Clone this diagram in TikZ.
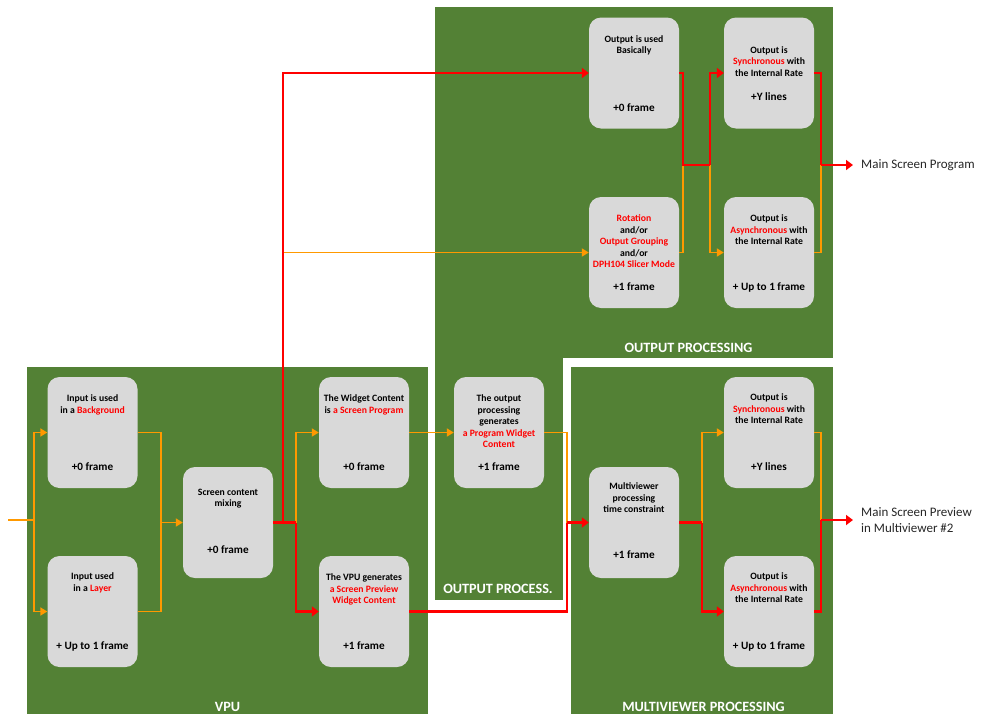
\documentclass[tikz,border=0pt]{standalone}
\usepackage{fontspec}
\setmainfont{Carlito}
\usetikzlibrary{arrows.meta,calc}
\definecolor{panelgreen}{HTML}{538135}
\definecolor{boxgray}{HTML}{D9D9D9}
\definecolor{lineorange}{HTML}{FF9900}
\definecolor{linered}{HTML}{FF0000}
\definecolor{labeltext}{HTML}{262626}
\newcommand{\hl}[1]{\textcolor{linered}{#1}}
\tikzset{
  panel/.style={fill=panelgreen},
  stage/.style={fill=boxgray, rounded corners=12pt, minimum width=90pt,
    minimum height=111pt, inner sep=0pt},
  btxt/.style={font=\bfseries\fontsize{9.7}{11.5}\selectfont, align=center,
    inner sep=0pt, anchor=north, text=black},
  ftxt/.style={font=\bfseries\fontsize{11.2}{13}\selectfont, inner sep=0pt,
    anchor=base, text=black},
  ptitle/.style={font=\bfseries\fontsize{14.2}{16}\selectfont, text=white, inner sep=0pt},
  olink/.style={draw=lineorange, line width=1.8pt},
  rlink/.style={draw=linered, line width=2.8pt},
  otip/.style={-{Triangle[length=7pt,width=8pt]}},
  rtip/.style={-{Triangle[length=7pt,width=10pt]}},
  outlbl/.style={font=\fontsize{13}{16}\selectfont, text=labeltext, align=left,
    anchor=west, inner xsep=8pt, inner ysep=0pt},
}
\begin{document}
\begin{tikzpicture}[x=1pt,y=-1pt]
\useasboundingbox (0,0) rectangle (988,715);

% ---- panels ----
\fill[panel] (27,367) rectangle (428,714);
\fill[panel] (435,7) rectangle (833,358);
\fill[panel] (435,358) rectangle (563,600);
\fill[panel] (571,367) rectangle (833,714);

\node[ptitle] (t-vpu) at (227.5,707) {VPU};
\node[ptitle] (t-out) at (688.5,348) {OUTPUT PROCESSING};
\node[ptitle] (t-outs) at (498,589) {OUTPUT PROCESS.};
\node[ptitle] (t-mv) at (703.5,707) {MULTIVIEWER PROCESSING};

% ---- processing stages ----
\node[stage] (A) at (92.5,432.5) {};
\node[stage] (B) at (92.5,611.5) {};
\node[stage] (C) at (228,522.5) {};
\node[stage] (D) at (364,432.5) {};
\node[stage] (E) at (364,611.5) {};
\node[stage] (F) at (499,432.5) {};
\node[stage] (G) at (634,73) {};
\node[stage] (H) at (634,252.5) {};
\node[stage] (I) at (769,73) {};
\node[stage] (J) at (769,252.5) {};
\node[stage] (K) at (634,522.5) {};
\node[stage] (L) at (769,432.5) {};
\node[stage] (M) at (769,611.5) {};

% ---- stage texts ----
\node[btxt] (A-t) at ($(A.north)+(0,18)$) {Input is used\\in a \hl{Background}};
\node[ftxt] (A-f) at ($(A.north)+(0,93.7)$) {+0 frame};
\node[btxt] (B-t) at ($(B.north)+(0,17)$) {Input used\\in a \hl{Layer}};
\node[ftxt] (B-f) at ($(B.north)+(0,93.7)$) {+ Up to 1 frame};
\node[btxt] (C-t) at ($(C.north)+(0,22)$) {Screen content\\mixing};
\node[ftxt] (C-f) at ($(C.north)+(0,86.7)$) {+0 frame};
\node[btxt] (D-t) at ($(D.north)+(0,18)$) {The Widget Content\\is \hl{a Screen Program}};
\node[ftxt] (D-f) at ($(D.north)+(0,93.7)$) {+0 frame};
\node[btxt] (E-t) at ($(E.north)+(0,18)$) {The VPU generates\\\hl{a Screen Preview}\\\hl{Widget Content}};
\node[ftxt] (E-f) at ($(E.north)+(0,93.7)$) {+1 frame};
\node[btxt] (F-t) at ($(F.north)+(0,18)$) {The output\\processing\\generates\\\hl{a Program Widget}\\\hl{Content}};
\node[ftxt] (F-f) at ($(F.north)+(0,93.7)$) {+1 frame};
\node[btxt] (G-t) at ($(G.north)+(0,18)$) {Output is used\\Basically};
\node[ftxt] (G-f) at ($(G.north)+(0,93.7)$) {+0 frame};
\node[btxt] (H-t) at ($(H.north)+(0,18)$) {\hl{Rotation}\\and/or\\\hl{Output Grouping}\\and/or\\\hl{DPH104 Slicer Mode}};
\node[ftxt] (H-f) at ($(H.north)+(0,93.7)$) {+1 frame};
\node[btxt] (I-t) at ($(I.north)+(0,29)$) {Output is\\\hl{Synchronous} with\\the Internal Rate};
\node[ftxt] (I-f) at ($(I.north)+(0,82.7)$) {+Y lines};
\node[btxt] (J-t) at ($(J.north)+(0,18)$) {Output is\\\hl{Asynchronous} with\\the Internal Rate};
\node[ftxt] (J-f) at ($(J.north)+(0,93.7)$) {+ Up to 1 frame};
\node[btxt] (K-t) at ($(K.north)+(0,16)$) {Multiviewer\\processing\\time constraint};
\node[ftxt] (K-f) at ($(K.north)+(0,91.7)$) {+1 frame};
\node[btxt] (L-t) at ($(L.north)+(0,17)$) {Output is\\\hl{Synchronous} with\\the Internal Rate};
\node[ftxt] (L-f) at ($(L.north)+(0,93.7)$) {+Y lines};
\node[btxt] (M-t) at ($(M.north)+(0,17)$) {Output is\\\hl{Asynchronous} with\\the Internal Rate};
\node[ftxt] (M-f) at ($(M.north)+(0,93.7)$) {+ Up to 1 frame};

% ---- outputs ----
\node[outlbl] (out1) at (853,165) {Main Screen Program};
\node[outlbl] (out2) at (853,520) {Main Screen Preview\\in Multiviewer \#2};

% ---- junction points ----
\coordinate (in) at (8,520);
\coordinate (j1) at (34,520);
\coordinate (j2) at (161,522.5);
\coordinate (j3) at (296,522.5);
\coordinate (j4) at (283,522.5);
\coordinate (j6) at (567,522.5);
\coordinate (j7) at (683,165);
\coordinate (j8) at (710,165);
\coordinate (j9) at (821,165);
\coordinate (j10) at (702,522.5);
\coordinate (j11) at (821,520);

% ---- VPU links ----
\draw[olink] (in) -- (j1);
\draw[olink,otip] (j1) |- (A.west);
\draw[olink,otip] (j1) |- (B.west);
\draw[olink] (A.east) -| (j2);
\draw[olink] (B.east) -| (j2);
\draw[olink,otip] (j2) -- (C.west);
\draw[olink,otip] (j3) |- (D.west);
\draw[olink,otip] (j4 |- H.west) -- (H.west);
\draw[rlink] (C.east) -- (j3);
\draw[rlink,rtip] (j3) |- (E.west);
\draw[rlink,rtip] (j4) |- (G.west);

% ---- output process. links ----
\draw[olink,otip] (D.east) -- (F.west);
\draw[olink] (F.east) -| (j6);
\draw[rlink] (E.east) -| (j6);
\draw[rlink,rtip] (j6) -- (K.west);

% ---- output processing links ----
\draw[olink] (H.east) -| (j7);
\draw[olink,otip] (j8) |- (J.west);
\draw[rlink] (G.east) -| (j7) -- (j8);
\draw[rlink,rtip] (j8) |- (I.west);
\draw[olink] (J.east) -| (j9);
\draw[rlink] (I.east) -| (j9);
\draw[rlink,rtip] (j9) -- (out1.west);

% ---- multiviewer links ----
\draw[olink,otip] (j10) |- (L.west);
\draw[rlink] (K.east) -- (j10);
\draw[rlink,rtip] (j10) |- (M.west);
\draw[olink] (L.east) -| (j11);
\draw[rlink] (M.east) -| (j11);
\draw[rlink,rtip] (j11) -- (out2.west);
\end{tikzpicture}
\end{document}
